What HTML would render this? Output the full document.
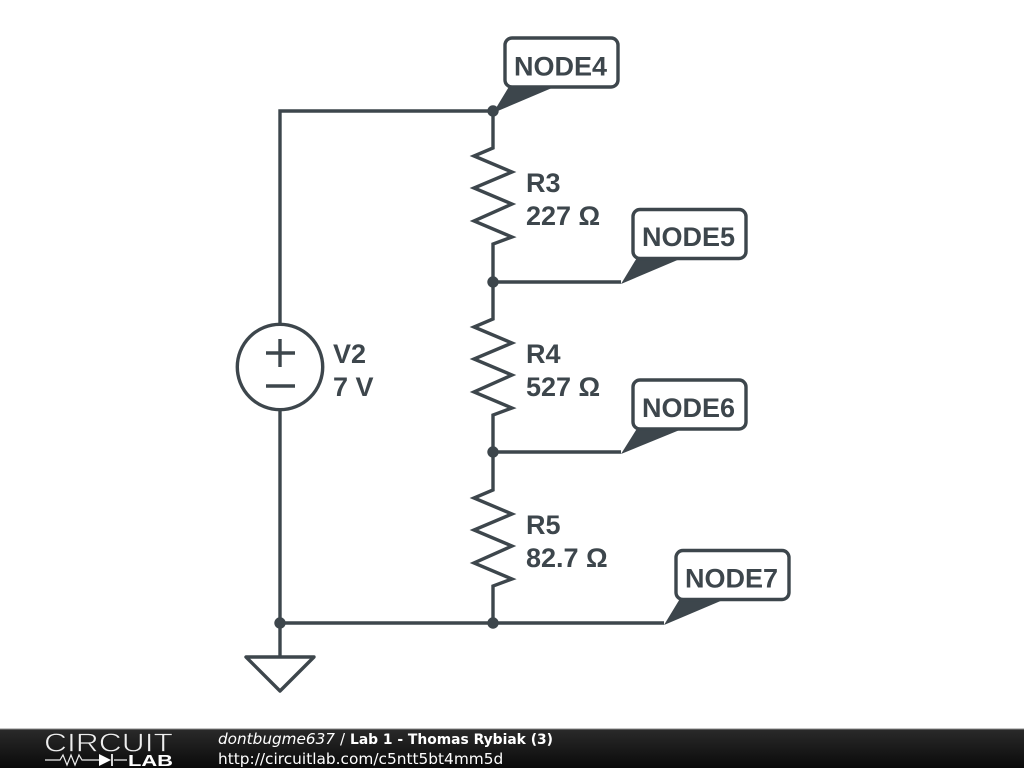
<!DOCTYPE html>
<html><head><meta charset="utf-8"><style>
html,body{margin:0;padding:0;background:#fff}
svg{display:block}
</style></head><body>
<svg width="1024" height="768" viewBox="0 0 1024 768" xmlns="http://www.w3.org/2000/svg">
<defs>
<linearGradient id="f" x1="0" y1="0" x2="0" y2="1"><stop offset="0" stop-color="#2a2a2a"/><stop offset="1" stop-color="#0a0a0a"/></linearGradient>
</defs>
<rect width="1024" height="768" fill="#fff"/>
<g fill="none" stroke="#3d464c" stroke-width="3.4" stroke-linejoin="miter">
<path d="M493 111H280V325M280 410V657M280 623H664M493 282H621M493 452H621"/>
<path d="M493 111V148L474 156L512 172L474 188L512 204L474 221L512 237L493 244V319L474 327L512 343L474 359L512 375L474 392L512 408L493 415V490L474 498L512 514L474 530L512 546L474 563L512 579L493 586V623"/>
<circle cx="280" cy="367" r="42.7"/>
<path d="M266 353H295M280 339V367M266 386H295"/>
<path d="M246 657H314L280 691Z" stroke-linejoin="round"/>
</g>
<g fill="#3d464c">
<circle cx="493" cy="111" r="5.7"/><circle cx="493" cy="282" r="5.7"/><circle cx="493" cy="452" r="5.7"/><circle cx="280" cy="623" r="5.7"/><circle cx="493" cy="623" r="5.7"/>
<path d="M493 113L510 85H559Z"/>
<path d="M621 284L638 256H687Z"/>
<path d="M621 454L638 427H687Z"/>
<path d="M664 625L681 597H730Z"/>
</g>
<g fill="#fff" stroke="#3d464c" stroke-width="3.4">
<rect x="505" y="38" width="113" height="49" rx="7"/>
<rect x="633" y="209.500" width="113" height="49" rx="7"/>
<rect x="633" y="380" width="113" height="49" rx="7"/>
<rect x="676" y="550.500" width="113" height="49" rx="7"/>
</g>
<g font-family="'Liberation Sans',Arial,sans-serif" font-weight="700" font-size="27" fill="#3d464c">
<text x="514" y="75.500">NODE4</text>
<text x="642" y="246">NODE5</text>
<text x="642" y="417">NODE6</text>
<text x="685" y="587.500">NODE7</text>
<text x="526" y="192">R3</text>
<text x="526" y="225">227 Ω</text>
<text x="526" y="363">R4</text>
<text x="526" y="396">527 Ω</text>
<text x="526" y="534">R5</text>
<text x="526" y="567">82.7 Ω</text>
<text x="333" y="363">V2</text>
<text x="333" y="396">7 V</text>
</g>
<rect y="729" width="1024" height="39" fill="url(#f)"/>
<rect y="728.500" width="1024" height="1" fill="#8a8a8a"/>
<g fill="none" stroke="#eee" stroke-width="1.200">
<path d="M45 760H60L63 755L67 765L71 755L75 765L79 755L82 760H99M114 760H127"/>
<path d="M112 754V766" stroke-width="1.800"/>
</g>
<path d="M99 754L111 760L99 766Z" fill="#fff"/>
<text x="44" y="751.500" font-family="'Liberation Sans',sans-serif" font-size="25.500" fill="#eee" stroke="#1e1e1e" stroke-width=".7" textLength="129" lengthAdjust="spacingAndGlyphs">CIRCUIT</text>
<text x="128" y="766" font-family="'Liberation Sans',sans-serif" font-size="16" font-weight="700" fill="#fff" textLength="45" lengthAdjust="spacingAndGlyphs">LAB</text>
<g font-family="'DejaVu Sans',sans-serif" fill="#fff">
<text x="218" y="744" font-size="15.400" font-style="italic" textLength="117" lengthAdjust="spacingAndGlyphs">dontbugme637</text>
<text x="340" y="744" font-size="15">/</text>
<text x="350" y="744" font-size="14" font-weight="700" textLength="203" lengthAdjust="spacingAndGlyphs">Lab 1 - Thomas Rybiak (3)</text>
<text x="218" y="764" font-size="15.360">http://circuitlab.com/c5ntt5bt4mm5d</text>
</g>
</svg>
</body></html>
